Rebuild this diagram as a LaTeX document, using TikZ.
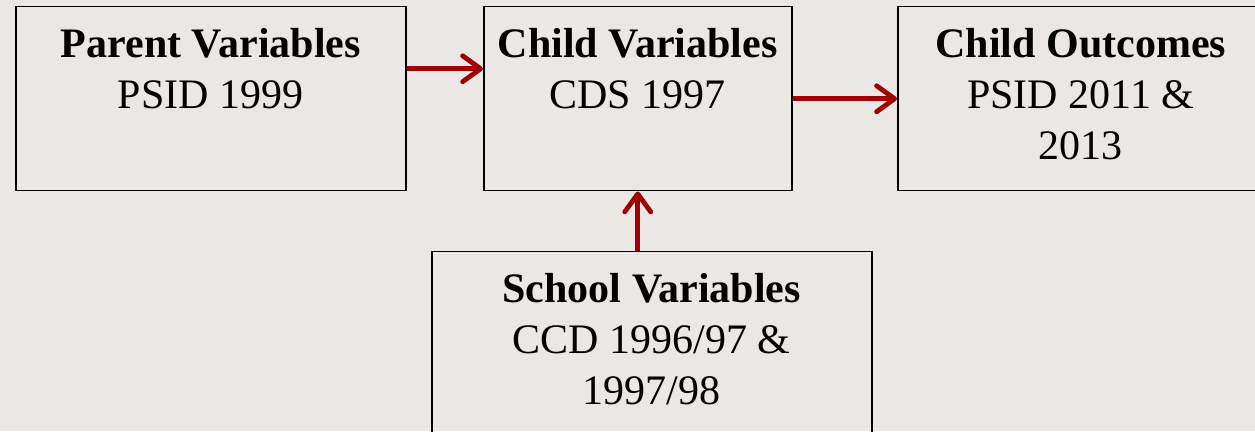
\documentclass[tikz,border=0pt]{standalone}
\usepackage{fontspec}
\setmainfont{Liberation Serif}
\usetikzlibrary{arrows.meta}
\definecolor{bgpaper}{RGB}{235,231,228}
\definecolor{arrowred}{RGB}{160,0,0}

\begin{document}
\begin{tikzpicture}[x=1pt, y=1pt, font=\fontsize{42}{51}\selectfont,
  panel/.style={draw, line width=1.5pt, inner sep=0pt, anchor=north west},
  link/.style={-{Straight Barb[length=18pt, width=26pt, line cap=round, line join=round]}, arrowred, line width=4.8pt}]
  \fill[bgpaper] (0,0) rectangle (1255,431);
  \useasboundingbox (0,0) rectangle (1255,431);
  \clip (0,0) rectangle (1255,431);
  \node[panel] (parent) at (15,425) {\parbox[c][184pt][t]{390pt}{\vspace*{22pt}\centering\textbf{Parent Variables}\\PSID 1999}};
  \node[panel] (child) at (483,425) {\parbox[c][184pt][t]{308pt}{\vspace*{22pt}\centering\textbf{Child Variables}\\CDS 1997}};
  \node[panel] (outcomes) at (897,425) {\parbox[c][184pt][t]{366pt}{\vspace*{22pt}\centering\textbf{Child Outcomes}\\PSID 2011 \&\\2013}};
  \node[panel] (school) at (431,180) {\parbox[c][190pt][t]{440pt}{\vspace*{22pt}\centering\textbf{School Variables}\\CCD 1996/97 \&\\1997/98}};
  \draw[link] ([yshift=30pt]parent.east) -- ([yshift=30pt]child.west);
  \draw[link] (child.east) -- (outcomes.west);
  \draw[link] (school.north -| child.south) -- (child.south);
\end{tikzpicture}
\end{document}
